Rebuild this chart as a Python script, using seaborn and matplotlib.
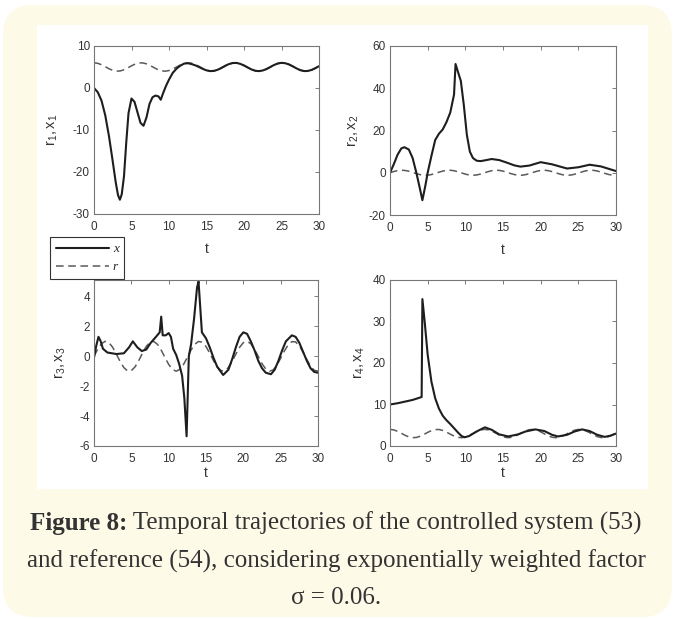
import matplotlib
matplotlib.use("Agg")
import matplotlib.pyplot as plt
from matplotlib.patches import FancyBboxPatch, Rectangle
from matplotlib.lines import Line2D
import seaborn as sns

# time grid of the reference signals (read every 0.5)
t_ref = [0.0, 0.5, 1.0, 1.5, 2.0, 2.5, 3.0, 3.5, 4.0, 4.5, 5.0, 5.5, 6.0, 6.5, 7.0, 7.5,
         8.0, 8.5, 9.0, 9.5, 10.0, 10.5, 11.0, 11.5, 12.0, 12.5, 13.0, 13.5, 14.0, 14.5,
         15.0, 15.5, 16.0, 16.5, 17.0, 17.5, 18.0, 18.5, 19.0, 19.5, 20.0, 20.5, 21.0,
         21.5, 22.0, 22.5, 23.0, 23.5, 24.0, 24.5, 25.0, 25.5, 26.0, 26.5, 27.0, 27.5,
         28.0, 28.5, 29.0, 29.5, 30.0]

r1 = [6.00, 5.88, 5.54, 5.07, 4.58, 4.20, 4.01, 4.06, 4.35, 4.79, 5.28, 5.71, 5.96, 5.98,
      5.75, 5.35, 4.85, 4.40, 4.09, 4.00, 4.16, 4.52, 5.00, 5.48, 5.84, 6.00, 5.91, 5.59,
      5.14, 4.65, 4.24, 4.03, 4.04, 4.30, 4.72, 5.22, 5.66, 5.94, 5.99, 5.80, 5.41, 4.92,
      4.45, 4.12, 4.00, 4.13, 4.47, 4.94, 5.42, 5.81, 5.99, 5.93, 5.65, 5.20, 4.71, 4.28,
      4.04, 4.02, 4.25, 4.66, 5.15]
r2 = [0.00, 0.58, 1.01, 1.20, 1.09, 0.72, 0.17, -0.42, -0.91, -1.17, -1.15, -0.85, -0.34,
      0.26, 0.79, 1.13, 1.19, 0.96, 0.49, -0.09, -0.65, -1.06, -1.20, -1.05, -0.64, -0.08,
      0.50, 0.96, 1.19, 1.12, 0.78, 0.25, -0.35, -0.85, -1.15, -1.18, -0.90, -0.41, 0.18,
      0.72, 1.10, 1.20, 1.00, 0.56, -0.01, -0.58, -1.02, -1.20, -1.09, -0.71, -0.16, 0.43,
      0.92, 1.17, 1.15, 0.84, 0.33, -0.27, -0.80, -1.13, -1.19]
r3 = [0.00, 0.48, 0.84, 1.00, 0.91, 0.60, 0.14, -0.35, -0.76, -0.98, -0.96, -0.71, -0.28,
      0.22, 0.66, 0.94, 0.99, 0.80, 0.41, -0.08, -0.54, -0.88, -1.00, -0.88, -0.54, -0.07,
      0.42, 0.80, 0.99, 0.94, 0.65, 0.21, -0.29, -0.71, -0.96, -0.98, -0.75, -0.34, 0.15,
      0.60, 0.91, 1.00, 0.84, 0.47, -0.01, -0.49, -0.85, -1.00, -0.91, -0.59, -0.13, 0.36,
      0.76, 0.98, 0.96, 0.70, 0.27, -0.22, -0.66, -0.94, -0.99]
r4 = [4.00, 3.88, 3.54, 3.07, 2.58, 2.20, 2.01, 2.06, 2.35, 2.79, 3.28, 3.71, 3.96, 3.98,
      3.75, 3.35, 2.85, 2.40, 2.09, 2.00, 2.16, 2.52, 3.00, 3.48, 3.84, 4.00, 3.91, 3.59,
      3.14, 2.65, 2.24, 2.03, 2.04, 2.30, 2.72, 3.22, 3.66, 3.94, 3.99, 3.80, 3.41, 2.92,
      2.45, 2.12, 2.00, 2.13, 2.47, 2.94, 3.42, 3.81, 3.99, 3.93, 3.65, 3.20, 2.71, 2.28,
      2.04, 2.02, 2.25, 2.66, 3.15]

# controlled states
t_x1 = [0.0, 0.5, 1.0, 1.5, 2.0, 2.5, 2.9, 3.2, 3.45, 3.7, 4.0, 4.3, 4.6, 5.0, 5.4, 5.8,
        6.2, 6.6, 7.0, 7.4, 7.8, 8.2, 8.6, 8.9, 9.2, 9.6, 10.0, 10.5, 11.0, 11.5, 12.0,
        12.5, 13.0, 13.5, 14.0, 14.5, 15.0, 15.5, 16.0, 16.5, 17.0, 17.5, 18.0, 18.5,
        19.0, 19.5, 20.0, 20.5, 21.0, 21.5, 22.0, 22.5, 23.0, 23.5, 24.0, 24.5, 25.0,
        25.5, 26.0, 26.5, 27.0, 27.5, 28.0, 28.5, 29.0, 29.5, 30.0]
x1 = [0.0, -1.0, -3.0, -6.5, -11.5, -17.5, -22.5, -25.5, -26.6, -25.3, -21.0, -13.0, -6.0,
      -2.5, -3.3, -5.8, -8.3, -9.0, -7.0, -3.8, -2.2, -1.8, -2.0, -2.8, -1.3, 0.5, 2.0,
      3.6, 4.6, 5.3, 5.8, 5.9, 5.7, 5.4, 5.0, 4.55, 4.2, 4.02, 4.08, 4.35, 4.8, 5.3, 5.7,
      5.95, 5.97, 5.75, 5.35, 4.87, 4.42, 4.1, 4.02, 4.17, 4.52, 5.0, 5.47, 5.84, 5.99,
      5.9, 5.6, 5.15, 4.67, 4.25, 4.03, 4.05, 4.3, 4.72, 5.2]

t_x2 = [0.0, 0.5, 1.0, 1.5, 1.9, 2.5, 3.0, 3.5, 4.0, 4.3, 4.7, 5.0, 5.5, 6.0, 6.5, 7.0,
        7.5, 8.0, 8.5, 8.7, 9.0, 9.4, 9.8, 10.2, 10.6, 11.0, 11.5, 12.0, 12.5, 13.5, 14.5,
        15.5, 16.5, 17.3, 18.5, 20.0, 21.5, 23.5, 25.0, 26.5, 28.0, 30.0]
x2 = [0.0, 4.0, 8.5, 11.5, 12.1, 11.0, 7.0, 0.0, -8.0, -13.0, -6.0, 0.0, 8.0, 15.5, 18.5,
      20.5, 24.0, 28.5, 37.0, 51.5, 48.0, 43.5, 32.0, 18.0, 10.0, 7.0, 5.7, 5.5, 5.8, 6.5,
      6.0, 4.8, 3.5, 2.9, 3.4, 5.0, 4.0, 2.0, 2.6, 3.8, 3.0, 0.8]

t_x3 = [0.0, 0.3, 0.6, 0.9, 1.2, 1.8, 3.0, 4.0, 4.7, 5.2, 5.8, 6.4, 7.0, 7.6, 8.3, 8.8,
        9.0, 9.2, 9.6, 10.0, 10.3, 10.6, 11.0, 11.4, 11.8, 12.1, 12.4, 12.7, 13.0, 13.4,
        13.8, 14.0, 14.2, 14.45, 15.0, 15.5, 16.0, 16.5, 17.3, 18.0, 18.5, 19.0, 19.5,
        20.0, 20.5, 21.0, 21.5, 22.0, 22.5, 23.0, 23.7, 24.2, 24.7, 25.2, 25.7, 26.5,
        27.0, 27.5, 28.0, 28.5, 29.0, 29.5, 30.0]
x3 = [-0.1, 0.7, 1.3, 1.0, 0.5, 0.25, 0.15, 0.2, 0.6, 1.0, 0.6, 0.35, 0.45, 0.9, 1.3, 1.6,
      2.65, 1.4, 1.4, 1.55, 1.3, 0.5, 0.1, -0.5, -1.3, -2.8, -5.35, 0.0, 0.8, 2.5, 4.6,
      5.0, 3.5, 1.6, 1.2, 0.6, -0.1, -0.7, -1.25, -0.9, -0.2, 0.6, 1.3, 1.6, 1.5, 1.0,
      0.4, -0.3, -0.8, -1.1, -1.2, -0.9, -0.3, 0.4, 1.0, 1.4, 1.3, 0.9, 0.3, -0.3, -0.8,
      -1.05, -1.1]

t_x4 = [0.0, 1.0, 2.0, 3.0, 4.2, 4.3, 4.6, 5.0, 5.5, 6.0, 6.5, 7.0, 7.5, 8.0, 8.5, 9.0,
        9.5, 9.9, 10.5, 11.5, 12.6, 13.5, 14.5, 15.7, 17.0, 18.0, 19.3, 20.5, 21.5, 22.3,
        23.5, 24.5, 25.5, 26.5, 27.5, 28.5, 29.3, 30.0]
x4 = [10.0, 10.3, 10.7, 11.1, 11.8, 35.4, 30.0, 22.0, 15.5, 11.5, 9.0, 7.3, 6.2, 5.3, 4.3,
      3.3, 2.4, 2.1, 2.4, 3.5, 4.5, 3.9, 2.8, 2.3, 2.8, 3.5, 4.0, 3.6, 2.7, 2.3, 2.7, 3.5,
      4.0, 3.6, 2.7, 2.2, 2.5, 3.0]

x_ticks = [0, 5, 10, 15, 20, 25, 30]
caption_bold = "Figure 8:"
caption_1 = " Temporal trajectories of the controlled system (53)"
caption_2 = "and reference (54), considering exponentially weighted factor"
caption_3 = "σ = 0.06."

CREAM = "#FEFAE8"
W, H = 675, 619

sns.set_theme(style="white")
plt.rcParams["font.family"] = ["Liberation Sans", "DejaVu Sans"]
plt.rcParams["mathtext.fontset"] = "custom"
plt.rcParams["mathtext.rm"] = "Liberation Sans"
plt.rcParams["mathtext.it"] = "Liberation Sans"
plt.rcParams["axes.unicode_minus"] = False

fig = plt.figure(figsize=(W / 100, H / 100), dpi=100)
fig.patch.set_facecolor("white")

# card background
bg = fig.add_axes([0, 0, 1, 1], zorder=0)
bg.set_xlim(0, W)
bg.set_ylim(H, 0)
bg.axis("off")
bg.add_patch(FancyBboxPatch((33, 35), 609, 552, boxstyle="round,pad=30,rounding_size=30",
                            fc=CREAM, ec="none"))
bg.add_patch(Rectangle((37, 25), 611, 464, fc="white", ec="none"))


def px_axes(x0, y0, x1, y1):
    return fig.add_axes([x0 / W, 1 - y1 / H, (x1 - x0) / W, (y1 - y0) / H], zorder=2)


panels = [
    # box, t, x, r, ylim, yticks, ylabel, ylabel x, xlabel y
    ((94, 46, 319, 214), t_x1, x1, r1, (-30, 10), [-30, -20, -10, 0, 10],
     r"$\mathregular{r_1, x_1}$", -0.150, -0.165),
    ((390, 46, 616, 215), t_x2, x2, r2, (-20, 60), [-20, 0, 20, 40, 60],
     r"$\mathregular{r_2, x_2}$", -0.130, -0.165),
    ((94, 280, 318, 446), t_x3, x3, r3, (-6, 5.1), [-6, -4, -2, 0, 2, 4],
     r"$\mathregular{r_3, x_3}$", -0.118, -0.12),
    ((390, 280, 616, 446), t_x4, x4, r4, (0, 40), [0, 10, 20, 30, 40],
     r"$\mathregular{r_4, x_4}$", -0.100, -0.12),
]

for box, tx, xv, rv, ylim, yticks, ylab, ylx, xly in panels:
    ax = px_axes(*box)
    sns.lineplot(x=t_ref, y=rv, ax=ax, color="#5a5a5a", lw=1.1, linestyle=(0, (5, 3)))
    sns.lineplot(x=tx, y=xv, ax=ax, color="#1e1e1e", lw=1.5)
    ax.set_xlim(0, 30)
    ax.set_ylim(*ylim)
    ax.set_xticks(x_ticks)
    ax.set_yticks(yticks)
    ax.tick_params(direction="in", length=3, width=0.6, top=True, right=True,
                   labelsize=8.5, labelcolor="#333333", color="#666666")
    ax.tick_params(axis="x", pad=5)
    ax.tick_params(axis="y", pad=3)
    for s in ax.spines.values():
        s.set_color("#777777")
        s.set_linewidth(0.8)
    ax.set_xlabel("t", fontsize=10, color="#333333")
    ax.set_ylabel(ylab, fontsize=10.5, color="#333333")
    ax.xaxis.set_label_coords(0.5, xly)
    ax.yaxis.set_label_coords(ylx, 0.5)
    ax.set_facecolor("white")

handles = [Line2D([], [], color="#1e1e1e", lw=1.5),
           Line2D([], [], color="#5a5a5a", lw=1.1, linestyle=(0, (5, 3)))]
leg = fig.legend(handles, ["x", "r"], loc="upper left",
                 bbox_to_anchor=(50 / W, 1 - 237 / H), borderaxespad=0,
                 frameon=True, fancybox=False, framealpha=1, edgecolor="#333333",
                 handlelength=4.0, handletextpad=0.3, labelspacing=0.45, borderpad=0.45,
                 prop={"family": "Liberation Serif", "style": "italic", "size": 9.5})
leg.get_frame().set_linewidth(0.8)
leg.set_zorder(5)

# caption, sized to fit the card width
fig.canvas.draw()
rend = fig.canvas.get_renderer()
probe = fig.text(0, 0, caption_2, family="Liberation Serif", size=14)
scale = 621 / probe.get_window_extent(rend).width
probe.remove()
cap_size = 14 * scale
cx = 336
tb = fig.text(0, 1 - 530 / H, caption_bold, family="Liberation Serif", size=cap_size,
              weight="bold", color="#333333", va="baseline")
tr = fig.text(0, 1 - 530 / H, caption_1, family="Liberation Serif", size=cap_size,
              color="#333333", va="baseline")
wb = tb.get_window_extent(rend).width
wr = tr.get_window_extent(rend).width
x0 = cx - (wb + wr) / 2
tb.set_x(x0 / W)
tr.set_x((x0 + wb) / W)
fig.text(cx / W, 1 - 568 / H, caption_2, family="Liberation Serif", size=cap_size,
         color="#333333", ha="center", va="baseline")
fig.text(cx / W, 1 - 604 / H, caption_3, family=["Liberation Serif", "DejaVu Serif"],
         size=cap_size, color="#333333", ha="center", va="baseline")

fig.savefig("out.png", dpi=100)
